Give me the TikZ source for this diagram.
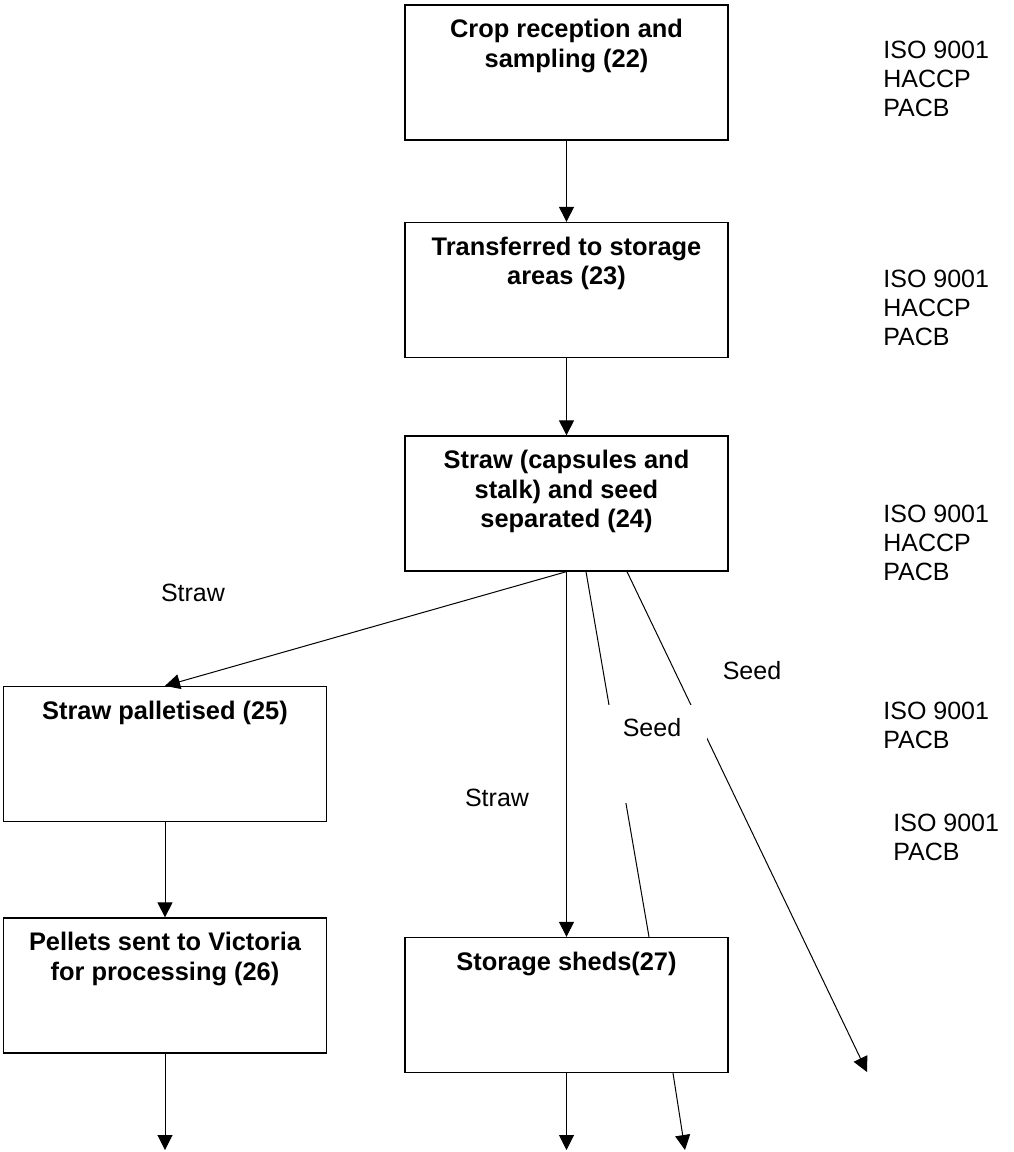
\documentclass[tikz,border=0pt]{standalone}
\usepackage{fontspec}
\setmainfont{Liberation Sans}
\usetikzlibrary{arrows.meta,calc}
\begin{document}
\begin{tikzpicture}[x=0.5pt,y=-0.5pt,
  stepbox/.style={draw, line width=0.65pt, rectangle, inner sep=0pt,
    minimum width=161.5pt, minimum height=67.5pt},
  boxtext/.style={anchor=north, inner sep=0pt, align=center, yshift=-4.5pt,
    font=\fontsize{12.7}{14.8}\selectfont\bfseries},
  note/.style={anchor=north west, inner sep=0pt, align=left,
    font=\fontsize{12.5}{14.5}\selectfont},
  flowlabel/.style={inner sep=0pt, font=\fontsize{12.5}{14.5}\selectfont},
  link/.style={line width=0.5pt},
  arrow/.style={link, -{Triangle[length=7.5pt,width=7.5pt]}},
  gap/.style={fill=white, inner sep=0pt, minimum width=54.5pt, minimum height=49pt}
]
\useasboundingbox (0,0) rectangle (1013,1152);

% process boxes
\node[stepbox] (b22) at (566.5,72.5) {};
\node[stepbox] (b23) at (566.5,290) {};
\node[stepbox] (b24) at (566.5,503.5) {};
\node[stepbox] (b25) at (165,754) {};
\node[stepbox] (b26) at (165,985.5) {};
\node[stepbox] (b27) at (566.5,1005) {};

\node[boxtext] (t22) at (b22.north) {\rule{0pt}{12pt}Crop reception and\\sampling (22)};
\node[boxtext] (t23) at (b23.north) {\rule{0pt}{12pt}Transferred to storage\\areas (23)};
\node[boxtext] (t24) at (b24.north) {\rule{0pt}{12pt}Straw (capsules and\\stalk) and seed\\separated (24)};
\node[boxtext] (t25) at (b25.north) {\rule{0pt}{12pt}Straw palletised (25)};
\node[boxtext] (t26) at (b26.north) {\rule{0pt}{12pt}Pellets sent to Victoria\\for processing (26)};
\node[boxtext] (t27) at (b27.north) {\rule{0pt}{12pt}Storage sheds(27)};

% certification notes
\node[note] (n1) at (883,34) {\rule{0pt}{12pt}ISO 9001\\HACCP\\PACB};
\node[note] (n2) at (883,263) {\rule{0pt}{12pt}ISO 9001\\HACCP\\PACB};
\node[note] (n3) at (883,498) {\rule{0pt}{12pt}ISO 9001\\HACCP\\PACB};
\node[note] (n4) at (883,695) {\rule{0pt}{12pt}ISO 9001\\PACB};
\node[note] (n5) at (893,807) {\rule{0pt}{12pt}ISO 9001\\PACB};

% free ends
\coordinate (e26) at (165,1150);
\coordinate (e27a) at (566.5,1150);
\coordinate (e27b) at (685,1150);
\coordinate (eseed) at (867,1072);

% main flow
\draw[arrow] (b22.south) -- (b23.north);
\draw[arrow] (b23.south) -- (b24.north);
\draw[arrow] (b24.south) -- (b25.north);
\draw[arrow] (b24.south) -- (b27.north);
\draw[arrow] (b25.south) -- (b26.north);
\draw[arrow] (b26.south) -- (e26);
\draw[arrow] (b27.south) -- (e27a);

% seed streams
\draw[link] ($(b24.south)+(19.5,0)$) -- ($(b27.north)+(82.5,0)$);
\draw[arrow] ($(b27.south)+(106.5,0)$) -- (e27b);
\draw[arrow] ($(b24.south)+(60.5,0)$) -- (eseed);

% label panel over the seed lines
\node[gap] (g1) at (652.5,754) {};
\node[flowlabel] (l3) at (652,728) {Seed};

\node[flowlabel] (l1) at (193,593) {Straw};
\node[flowlabel] (l2) at (752,671) {Seed};
\node[flowlabel] (l4) at (497,798) {Straw};
\end{tikzpicture}
\end{document}
